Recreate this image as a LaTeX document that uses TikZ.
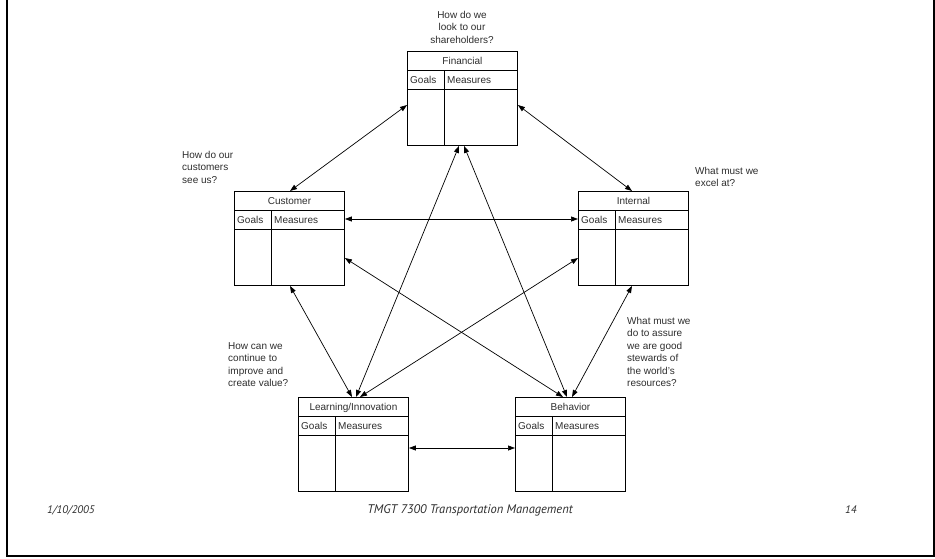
\documentclass[tikz,border=0pt]{standalone}
\usepackage{fontspec}
\setmainfont{Liberation Sans}
\newfontfamily\footfont{PT Sans}
\usetikzlibrary{arrows.meta,calc}

\definecolor{ink}{RGB}{45,45,45}

% One scorecard panel: title row, Goals/Measures row, empty body
\newcommand\bscpanel[4]{%
  \node[panel] (#1) at (#2,#3) {};
  \node[celltext,anchor=base] (#1-title) at ($(#1.north)+(0,13.2)$) {#4};
  \draw[rule] ([yshift=-19pt]#1.north west) -- ([yshift=-19pt]#1.north east);
  \draw[rule] ([yshift=-38pt]#1.north west) -- ([yshift=-38pt]#1.north east);
  \draw[rule] ([xshift=37pt,yshift=-19pt]#1.north west) -- ([xshift=37pt]#1.south west);
  \node[celltext,anchor=base west] (#1-goals) at ($(#1.north west)+(3,32.2)$) {Goals};
  \node[celltext,anchor=base west] (#1-meas) at ($(#1.north west)+(40,32.2)$) {Measures};
}

\begin{document}
\begin{tikzpicture}[x=1pt,y=-1pt,
  panel/.style={draw=black,line width=0.9pt,minimum width=110pt,minimum height=94pt,
    anchor=north west,inner sep=0pt},
  rule/.style={draw=black,line width=0.9pt},
  celltext/.style={inner sep=0pt,text=ink,font=\fontsize{10}{12}\selectfont},
  question/.style={inner sep=0pt,text=ink,align=left,anchor=north west,
    font=\fontsize{10}{12.5}\selectfont},
  link/.style={line width=0.7pt,draw=black,
    {Triangle[length=7pt,width=5pt]}-{Triangle[length=7pt,width=5pt]}},
  foot/.style={inner sep=0pt,text=ink,font=\footfont\itshape\fontsize{11}{13}\selectfont}]

\useasboundingbox (0,0) rectangle (935,558);

% page frame (open at the top)
\draw[line width=2pt] (7,0) -- (7,556) -- (934,556) -- (934,0);

\bscpanel{fin}{407}{51}{Financial}
\bscpanel{cust}{234}{191}{Customer}
\bscpanel{int}{578}{191}{Internal}
\bscpanel{learn}{298}{397}{Learning/Innovation}
\bscpanel{beh}{515}{397}{Behavior}

% questions beside each perspective
\node[question,align=center,anchor=north] (q-fin) at (462,11) {How do we\\look to our\\shareholders?};
\node[question] (q-cust) at (182,151) {How do our\\customers\\see us?};
\node[question] (q-int) at (695,167) {What must we\\excel at?};
\node[question] (q-learn) at (228,342) {How can we\\continue to\\improve and\\create value?};
\node[question] (q-beh) at (627,317) {What must we\\do to assure\\we are good\\stewards of\\the world's\\resources?};

% links between perspectives
\draw[link] ([yshift=-54pt]fin.north west) -- ([xshift=56pt]cust.north west);
\draw[link] ([yshift=-54pt]fin.north east) -- ([xshift=54pt]int.north west);
\draw[link] ([yshift=-28pt]cust.north east) -- ([yshift=-28pt]int.north west);
\draw[link] ([xshift=52pt]fin.south west) -- ([xshift=58pt]learn.north west);
\draw[link] ([xshift=57pt]fin.south west) -- ([xshift=52pt]beh.north west);
\draw[link] ([yshift=-67pt]cust.north east) -- ([xshift=48pt]beh.north west);
\draw[link] ([yshift=-67pt]int.north west) -- ([xshift=62pt]learn.north west);
\draw[link] ([xshift=56pt]cust.south west) -- ([xshift=54pt]learn.north west);
\draw[link] ([xshift=54pt]int.south west) -- ([xshift=57pt]beh.north west);
\draw[link] ([yshift=-51pt]learn.north east) -- ([yshift=-51pt]beh.north west);

% footer
\node[foot,anchor=west] (f-date) at (47,510) {1/10/2005};
\node[foot,font=\footfont\itshape\fontsize{12.5}{14}\selectfont] (f-title) at (470,510) {TMGT 7300 Transportation Management};
\node[foot,anchor=west] (f-page) at (845,510) {14};
\end{tikzpicture}
\end{document}
